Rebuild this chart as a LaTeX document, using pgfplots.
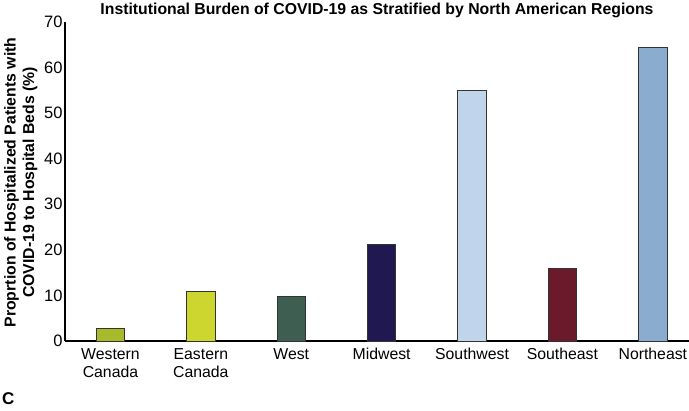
\documentclass[border=0pt]{standalone}
\usepackage{pgfplots}
\pgfplotsset{compat=1.18}
\usepackage{fontspec}
\setmainfont{Liberation Sans}
\definecolor{cWC}{HTML}{A8BA2A}
\definecolor{cEC}{HTML}{CDD52F}
\definecolor{cW}{HTML}{3D5E50}
\definecolor{cMW}{HTML}{201850}
\definecolor{cSW}{HTML}{C0D5EC}
\definecolor{cSE}{HTML}{6A1A2A}
\definecolor{cNE}{HTML}{8AACCF}
\begin{document}
\begin{tikzpicture}
\path[use as bounding box] (-65bp,-70bp) rectangle (624bp,341bp);
\begin{axis}[
  at={(0,0)}, anchor=south west,
  scale only axis, width=624bp, height=319bp,
  xmin=-0.503, xmax=6.40, ymin=0, ymax=70,
  axis x line=bottom, axis y line=left,
  axis line style={line width=1.6pt, -},
  xtick={0,...,6},
  xticklabels={{Western\\Canada},{Eastern\\Canada},West,Midwest,Southwest,Southeast,Northeast},
  xticklabel style={align=center, font=\fontsize{15.8bp}{18bp}\selectfont, yshift=-4bp},
  ytick={0,10,...,70},
  yticklabel style={font=\fontsize{16.5bp}{18bp}\selectfont, xshift=1bp},
  /pgf/number format/assume math mode=true,
  major tick length=0pt,
  ylabel={Proprtion of Hospitalized Patients with\\COVID-19 to Hospital Beds (\%)},
  ylabel style={align=center, font=\bfseries\fontsize{15.8bp}{18.5bp}\selectfont},
  every axis y label/.append style={at={(ticklabel cs:0.5)}, xshift=-1bp},
  ybar, bar width=28.5bp, bar shift=0pt,
  clip=false,
]
\addplot[fill=cWC, draw=black!80, line width=0.9pt] coordinates {(0,2.8)};
\addplot[fill=cEC, draw=black!80, line width=0.9pt] coordinates {(1,10.9)};
\addplot[fill=cW, draw=black!80, line width=0.9pt] coordinates {(2,9.8)};
\addplot[fill=cMW, draw=black!80, line width=0.9pt] coordinates {(3,21.1)};
\addplot[fill=cSW, draw=black!80, line width=0.9pt] coordinates {(4,54.9)};
\addplot[fill=cSE, draw=black!80, line width=0.9pt] coordinates {(5,15.9)};
\addplot[fill=cNE, draw=black!80, line width=0.9pt] coordinates {(6,64.5)};
\node[anchor=base, inner sep=0pt, font=\bfseries\fontsize{15.8bp}{18bp}\selectfont] at (rel axis cs:0.5,1) [yshift=7.5bp] {Institutional Burden of COVID-19 as Stratified by North American Regions};
\end{axis}
\node[anchor=south west, font=\bfseries\fontsize{17bp}{20bp}\selectfont, inner sep=0pt] at (-63bp,-64bp) {C};
\end{tikzpicture}
\end{document}
